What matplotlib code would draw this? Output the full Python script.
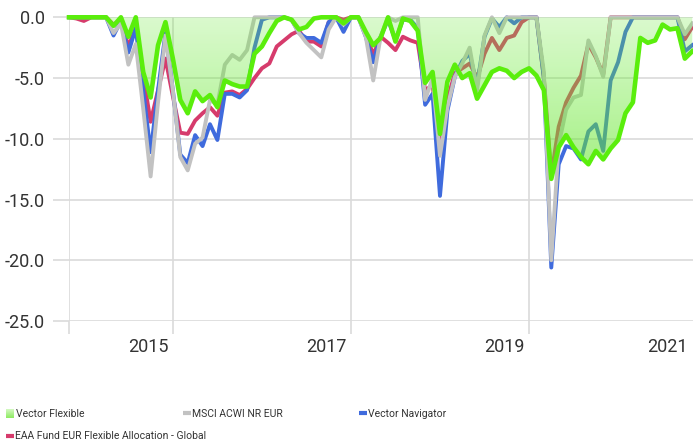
import numpy as np
import matplotlib
matplotlib.use("Agg")
import matplotlib.pyplot as plt
from matplotlib import font_manager
from matplotlib.patches import Polygon
from matplotlib.lines import Line2D
from matplotlib.colors import LinearSegmentedColormap

# ---------------- data (monthly drawdowns, %) ----------------
months = np.arange(85)

vector_flexible = [0, 0, 0, 0, 0, 0, -0.7, 0, -1.6, 0,
                   -4.5, -6.6, -2.3, -0.4, -3.4, -6.8, -7.9, -6.1, -6.9, -6.4,
                   -7.4, -5.2, -5.5, -5.7, -5.7, -3.0, -2.4, -1.3, -0.3, 0,
                   -0.2, -1.0, -0.8, -0.1, 0, 0, 0, -0.5, 0, 0,
                   -1.2, -2.3, -1.7, 0, -2.0, -0.1, -0.3, -1.1, -5.4, -4.5,
                   -9.6, -5.3, -3.9, -5.0, -4.6, -6.7, -5.6, -4.5, -4.2, -4.4,
                   -5.0, -4.5, -4.2, -4.8, -6.0, -13.3, -10.7, -9.7, -10.7, -11.5,
                   -12.1, -11.0, -11.7, -10.8, -10.1, -7.9, -7.0, -1.7, -2.1, -1.9,
                   -0.6, -1.0, -0.9, -3.4, -2.8]

msci_acwi = [0, 0, 0, 0, 0, 0, -1.3, -0.5, -3.9, -2.2,
             -7.5, -13.1, -7.0, -1.5, -6.0, -11.5, -12.6, -10.4, -9.9, -6.8,
             -7.2, -3.9, -3.1, -3.5, -2.7, 0, 0, 0, 0, 0,
             -0.2, -1.3, -2.1, -2.7, -3.3, -1.0, 0, -0.6, 0, 0,
             -1.6, -5.2, -1.6, 0, -0.3, 0, 0, 0, -6.8, -5.0,
             -11.4, -7.4, -4.9, -3.8, -2.5, -6.0, -1.5, 0, -1.3, 0,
             0, 0, 0, 0, -4.5, -20.0, -10.5, -7.6, -6.6, -6.4,
             -1.9, -3.2, -4.9, 0, 0, 0, 0, 0, 0, 0,
             0, 0, 0, -1.4, -0.5]

vector_navigator = [0, 0, 0, 0, 0, 0, -1.5, -0.3, -2.9, -0.9,
                    -6.0, -11.1, -6.0, -1.3, -6.0, -11.3, -12.0, -9.7, -10.6, -8.8,
                    -10.1, -6.3, -6.3, -6.6, -6.0, -2.5, -0.2, 0, 0, 0,
                    -0.2, -1.3, -1.7, -1.7, -2.1, -0.4, 0, -1.2, 0, 0,
                    -1.6, -3.7, -1.6, -0.2, -1.9, -0.2, -0.2, -0.9, -7.2, -6.3,
                    -14.7, -7.7, -4.9, -3.6, -3.0, -5.6, -1.6, -0.1, -0.8, 0,
                    -0.5, 0, 0, 0, -5.0, -20.6, -12.1, -10.6, -10.8, -11.7,
                    -9.4, -8.8, -11.0, -5.2, -3.7, -1.2, 0, 0, 0, 0,
                    0, 0, 0, -2.8, -2.3]

eaa_flex_alloc = [0, -0.1, -0.3, 0, 0, 0, -0.6, -0.2, -2.4, -0.9,
                  -4.8, -8.6, -6.0, -3.4, -6.5, -9.5, -9.6, -8.5, -7.9, -7.4,
                  -8.1, -6.2, -6.1, -6.4, -5.9, -5.0, -4.2, -3.8, -2.4, -1.9,
                  -1.4, -1.1, -2.0, -2.0, -2.4, -0.4, 0, -0.2, 0, 0,
                  -1.3, -3.1, -1.6, -2.1, -2.7, -1.6, -1.9, -2.1, -6.0, -5.6,
                  -10.5, -6.8, -4.6, -4.2, -3.8, -5.0, -3.0, -1.7, -2.7, -1.7,
                  -1.5, -0.4, 0, 0, -5.0, -13.0, -9.0, -7.0, -5.8, -4.8,
                  -2.2, -3.3, -4.7, 0, 0, 0, 0, 0, 0, 0,
                  0, 0, 0, -1.8, -0.8]

series_names = ["Vector Flexible", "MSCI ACWI NR EUR", "Vector Navigator",
                "EAA Fund EUR Flexible Allocation - Global"]
year_labels = ["2015", "2017", "2019", "2021"]
year_grid_months = [14, 38, 62, 86]
y_ticks = [0, -5, -10, -15, -20, -25]

# ---------------- style ----------------
avail = {f.name for f in font_manager.fontManager.ttflist}
font = "DejaVu Sans"
for fam in ["Liberation Sans Narrow", "Roboto", "Liberation Sans"]:
    if fam in avail:
        font = fam
        break
plt.rcParams["font.family"] = [font, "DejaVu Sans"]

C_GREEN = "#5AEE0C"
C_GREY = "#C2C2C2"
C_BLUE = "#3F6BDD"
C_PINK = "#D63B6C"
C_GRID = "#DADADA"
C_TEXT = "#333333"

W, H = 693, 444
fig = plt.figure(figsize=(W / 100, H / 100), dpi=100)

def fx(px):
    return px / W

def fy(py):
    return 1 - py / H

ax_l, ax_r, ax_t, ax_b = 69, 693, 17.3, 321
ax = fig.add_axes([fx(ax_l), fy(ax_b), (ax_r - ax_l) / W, (ax_b - ax_t) / H])
ax.set_xlim(0, 84.1)
ax.set_ylim(-25, 0)
for s in ax.spines.values():
    s.set_visible(False)

# grid and ticks
ax.set_yticks(y_ticks)
ax.set_yticklabels([f"{v:.1f}" for v in y_ticks])
ax.tick_params(axis="y", length=11.5, width=1.2, color=C_GRID, pad=6,
               labelsize=13, labelcolor=C_TEXT)
ax.set_xticks([0] + [m for m in year_grid_months if m <= 84.1])
ax.set_xticklabels([])
ax.tick_params(axis="x", length=9, width=1.2, color=C_GRID)
ax.grid(True, color=C_GRID, linewidth=1.2, zorder=0)
ax.set_axisbelow(True)

# lines under the fill
ax.plot(months, eaa_flex_alloc, color=C_PINK, lw=2.8, zorder=2, clip_on=False,
        solid_joinstyle="round")
ax.plot(months, vector_navigator, color=C_BLUE, lw=2.8, zorder=2.5, clip_on=False,
        solid_joinstyle="round")
ax.plot(months, msci_acwi, color=C_GREY, lw=2.8, zorder=3, clip_on=False,
        solid_joinstyle="round")

# gradient area for Vector Flexible
verts = [(months[0], 0)] + list(zip(months, vector_flexible)) + [(months[-1], 0)]
poly = Polygon(verts, closed=True, facecolor="none", edgecolor="none")
ax.add_patch(poly)
cmap = LinearSegmentedColormap.from_list(
    "g", [(0.42, 0.92, 0.22, 0.25), (0.40, 0.90, 0.18, 0.62)])
grad = np.linspace(0, 1, 256).reshape(-1, 1)
im = ax.imshow(grad, extent=[months[0], months[-1], min(vector_flexible) - 0.5, 0],
               origin="upper", aspect="auto", cmap=cmap, zorder=4,
               interpolation="bilinear")
im.set_clip_path(poly)
ax.set_xlim(0, 84.1)
ax.set_ylim(-25, 0)

ax.plot(months, vector_flexible, color=C_GREEN, lw=3.3, zorder=5, clip_on=False,
        solid_joinstyle="round")

# x year labels (right-aligned just left of the year gridline)
for lab, m in zip(year_labels, year_grid_months):
    xr = min(m - 0.55, 83.4)
    ax.text(xr, -0.0856, lab, transform=ax.get_xaxis_transform(), ha="right",
            va="center", fontsize=13, color=C_TEXT)

# ---------------- legend ----------------
leg_fs = 7.5
sq = fig.add_axes([fx(6), fy(418), 8 / W, 9 / H])
sq.imshow(np.linspace(0, 1, 32).reshape(-1, 1), aspect="auto",
          cmap=LinearSegmentedColormap.from_list("s", ["#D4F9C2", "#8EEB62"]))
sq.set_axis_off()
fig.text(fx(15.5), fy(414), series_names[0], fontsize=leg_fs, color=C_TEXT,
         va="center", ha="left")

def line_marker(x0, y0, color):
    fig.add_artist(Line2D([fx(x0), fx(x0 + 8)], [fy(y0), fy(y0)], color=color,
                          lw=3, solid_capstyle="butt", transform=fig.transFigure))

line_marker(183, 413, C_GREY)
fig.text(fx(192), fy(414), series_names[1], fontsize=leg_fs, color=C_TEXT,
         va="center", ha="left")
line_marker(359, 413, C_BLUE)
fig.text(fx(368), fy(414), series_names[2], fontsize=leg_fs, color=C_TEXT,
         va="center", ha="left")
line_marker(6, 435.5, C_PINK)
fig.text(fx(15), fy(436), series_names[3], fontsize=leg_fs, color=C_TEXT,
         va="center", ha="left")

fig.savefig("out.png", dpi=100)
